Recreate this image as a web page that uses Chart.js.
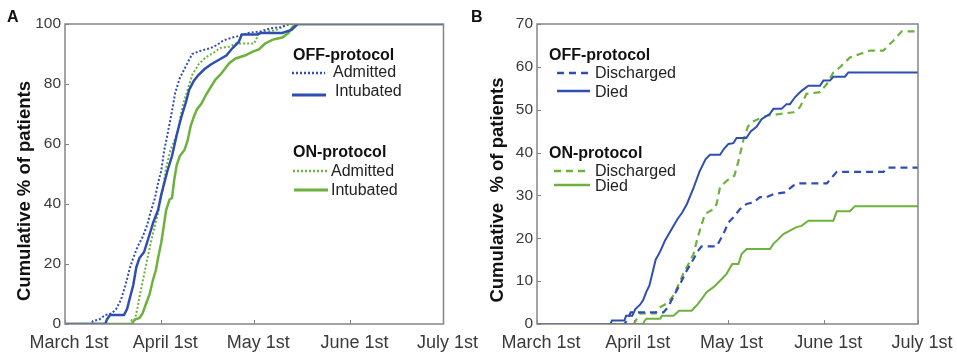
<!DOCTYPE html>
<html>
<head>
<meta charset="utf-8">
<script src="https://cdn.jsdelivr.net/npm/chart.js@4.4.1/dist/chart.umd.min.js"></script>
<style>
  html, body { margin: 0; padding: 0; background: #fff; }
  #wrap { position: relative; width: 957px; height: 355px; overflow: hidden; }
  .box { position: absolute; top: 0; height: 355px; }
  #boxA { left: 0; width: 482px; }
  #boxB { left: 460px; width: 497px; }
</style>
</head>
<body>
<div id="wrap">
  <div class="box" id="boxA"><canvas id="chartA"></canvas></div>
  <div class="box" id="boxB"><canvas id="chartB"></canvas></div>
</div>
<script>
// x axis: days since March 1st
const monthDays = [0, 31, 61, 92, 122];
const monthLabels = ['March 1st', 'April 1st', 'May 1st', 'June 1st', 'July 1st'];

// Panel A - cumulative % admitted / intubated  [day, %]
const offAdmitted = [[0,0],[8.5,0],[9,1],[11,1.5],[13,3],[15,3.5],[16.5,5],[18,8],[19.5,13],[21,19],[22,22],[23.5,26],[25,29],[26.5,33],[27.5,37],[29,42],[30,47],[31,51],[32,58],[33,63],[34.5,71],[35.5,77],[37,82],[38,84],[39.5,87],[41,90],[43.5,91],[47,92],[49,93],[51,94.5],[54,95.5],[56,96],[59,97],[63,97.5],[66,98.5],[70,99],[72,100],[122,100]];
const offIntubated = [[0,0],[13,0],[13.5,1.5],[14.5,3],[19,3],[20,5],[21,9],[22,13],[23,19],[24,22],[25.5,24],[27,29],[28.5,34],[30,38],[31,43],[32,47],[33,51],[34.5,56],[36,63],[37.5,69],[39,74],[40,78],[41.5,81],[43,83],[45,85],[47,86.5],[49.5,88],[52,89.5],[54,92],[56,94],[57,96.5],[62,96.5],[63,97],[70,97],[73,98],[75,100],[122,100]];
const onAdmitted = [[0,0],[21,0],[21.5,1.3],[22.5,1.3],[23.5,6],[24,9],[25,14],[26,19],[27,24],[28.3,30],[30,37],[31.5,45],[32.6,52],[34,58],[36,63],[37,68],[38,73],[39.5,78],[41,83],[43,86.5],[45.5,89],[48,90.5],[50,92],[53,92.5],[55,93.5],[61,93.5],[62.5,97],[68,98],[71,99.5],[73,100],[122,100]];
const onIntubated = [[0,0],[21.5,0],[22.5,1.5],[24,2],[25,3.5],[26.2,7],[27.3,10],[28.3,14.5],[29.3,18],[30,22],[31,27],[31.6,31],[32.6,38],[33.7,41.5],[34.5,42],[35.2,48],[36,53],[37,56],[38.5,58],[39.5,61],[40.5,66],[41.5,69],[42.5,71.5],[44,73.5],[45.5,76.5],[47,79],[48.5,81.5],[50,83],[51.5,85],[53,87],[55,88.5],[58,89.5],[60.5,90.8],[62.5,91.5],[64.5,93.5],[67,94.8],[70,95.5],[72,97],[73.3,99],[74.5,100],[122,100]];

// Panel B - cumulative % discharged / died  [day, %]
const offDischarged = [[0,0],[28,0],[29,1],[30,2.7],[40.5,2.7],[42,4],[43,5.4],[45.8,9.3],[47.9,12.4],[50,15],[51.5,17],[52.7,18.1],[57.5,18.1],[59.7,21],[61.3,23.7],[62.9,24.9],[65,26.8],[67.1,28],[69.3,28.4],[71.4,29.6],[73.5,29.6],[75.7,30.3],[79.4,30.7],[82.1,32.3],[84.2,32.8],[92.8,32.8],[94.9,34.6],[96,35.5],[110.9,35.5],[112.5,36.5],[122,36.5]];
const offDied = [[0,0],[23.5,0],[24,0.8],[28,0.8],[28.5,1.9],[30.5,1.9],[31.5,3.5],[33,4.5],[34,5.6],[35,7.5],[36,9],[37,12],[38,15],[39.5,17],[41,19.5],[43,22],[45,24.5],[46.5,26],[48,28],[50,31.5],[52,35.5],[54,38.5],[55.4,39.5],[58.6,39.5],[60,41],[61.3,42],[62.9,42.2],[63.9,43.4],[67,43.4],[68.5,45],[70.3,46],[71.9,47.8],[74.5,49],[75.7,50.2],[78.3,50.2],[79.9,51.3],[81,51.3],[82.6,52.9],[84.7,54.4],[86.9,55.6],[90.6,55.6],[91.7,56.8],[93.8,56.8],[94.9,57.7],[98.6,57.7],[99.7,58.7],[122,58.7]];
const onDischarged = [[0,0],[31,0],[33,2.5],[38,2.5],[39,3.7],[42,5],[44,7],[45.8,10],[47,12],[48.5,14],[50.1,16.3],[51.2,19.5],[52.2,22],[53.8,25.7],[56.5,26.8],[57.5,28],[58.6,31.9],[60.7,33.4],[63.2,34.6],[64.5,38],[66.1,43],[67.5,46],[68.5,47],[71.4,48],[73.5,48.6],[77.8,49],[82.1,49.4],[84.2,50.6],[86.3,53.7],[90.6,54.1],[92.8,56],[94.9,58.7],[97,59.9],[100.2,62.2],[103.4,63],[106.6,63.8],[110.9,63.8],[114.1,66.1],[116.8,68.3],[122,68.3]];
const onDied = [[0,0],[34,0],[34.5,0.8],[35.1,1.2],[39.4,1.2],[40,1.9],[43.7,1.9],[45.5,3.1],[49.5,3.1],[51.1,4.3],[52.7,5.8],[54.3,7.4],[56.5,8.6],[58.6,10.1],[60.7,11.7],[62.5,14],[64.5,14],[65.5,16.3],[67.1,17.5],[74.6,17.5],[75.7,18.7],[77.3,19.8],[78.9,21],[81,21.8],[83.1,22.6],[84.7,22.9],[86.9,24.1],[94.9,24.1],[96,26.3],[100.2,26.3],[101.8,27.5],[122,27.5]];

const BLUE = '#2f4eb2';
const GREEN = '#6cb23c';
const FONT = "'Liberation Sans', Arial, sans-serif";

// draws the box, inward ticks, y title, panel letter and the grouped legend
const panelPlugin = {
  id: 'panel',
  afterDraw(chart, args, opts) {
    const ctx = chart.ctx, a = chart.chartArea;
    const xs = chart.scales.x, ys = chart.scales.y;
    ctx.save();
    ctx.strokeStyle = '#858585';
    ctx.lineWidth = 1;
    ctx.beginPath();
    xs.ticks.forEach(t => {
      const px = Math.round(xs.getPixelForValue(t.value)) + 0.5;
      ctx.moveTo(px, a.bottom); ctx.lineTo(px, a.bottom - 4);
    });
    ys.ticks.forEach(t => {
      const py = Math.round(ys.getPixelForValue(t.value)) + 0.5;
      ctx.moveTo(a.left, py); ctx.lineTo(a.left + 4, py);
    });
    ctx.stroke();
    ctx.lineWidth = 1.5;
    ctx.strokeRect(a.left, a.top, a.right - a.left, a.bottom - a.top);

    ctx.fillStyle = '#111';
    ctx.font = 'bold 16px ' + FONT;
    ctx.textBaseline = 'alphabetic';
    ctx.textAlign = 'left';
    ctx.fillText(opts.letter, opts.letterX, 22);

    ctx.save();
    ctx.translate(opts.titleX, opts.titleY);
    ctx.rotate(-Math.PI / 2);
    ctx.font = 'bold 18.5px ' + FONT;
    ctx.textAlign = 'center';
    ctx.textBaseline = 'middle';
    ctx.fillText(opts.title, 0, 0);
    ctx.restore();

    opts.legend.forEach(item => {
      if (item.header) {
        ctx.font = 'bold 16px ' + FONT;
        ctx.fillStyle = '#111';
        ctx.fillText(item.header, item.x, item.y);
        return;
      }
      const ds = chart.data.datasets[item.ds];
      ctx.strokeStyle = ds.borderColor;
      ctx.lineWidth = ds.borderWidth + 0.5;
      ctx.setLineDash(ds.borderDash || []);
      ctx.beginPath();
      ctx.moveTo(item.x1, item.y); ctx.lineTo(item.x2, item.y);
      ctx.stroke();
      ctx.setLineDash([]);
      ctx.font = '16px ' + FONT;
      ctx.fillStyle = '#222';
      ctx.fillText(ds.label, item.tx, item.ty);
    });
    ctx.restore();
  }
};

function makeChart(id, datasets, yMax, yStep, yWidth, padRight, panel) {
  return new Chart(document.getElementById(id), {
    type: 'line',
    data: { datasets: datasets },
    options: {
      responsive: true,
      maintainAspectRatio: false,
      animation: false,
      layout: { padding: { left: 0, top: 24, right: padRight, bottom: 0 } },
      elements: { point: { radius: 0 }, line: { tension: 0 } },
      plugins: { legend: { display: false }, tooltip: { enabled: false }, panel: panel },
      scales: {
        x: {
          type: 'linear', min: 0, max: 122,
          afterBuildTicks: s => { s.ticks = monthDays.map(v => ({ value: v })); },
          afterFit: s => { s.height = 31; },
          ticks: {
            callback: v => monthLabels[monthDays.indexOf(v)],
            font: { size: 18, family: FONT }, color: '#3a3a3a',
            padding: 8, labelOffset: 4, maxRotation: 0, autoSkip: false
          },
          grid: { display: false, drawTicks: false },
          border: { display: false }
        },
        y: {
          min: 0, max: yMax,
          afterFit: s => { s.width = yWidth; },
          ticks: { stepSize: yStep, font: { size: 15.5, family: FONT }, color: '#3a3a3a', padding: 4 },
          grid: { display: false, drawTicks: false },
          border: { display: false }
        }
      }
    },
    plugins: [panelPlugin]
  });
}

makeChart('chartA', [
  { label: 'Admitted', data: offAdmitted, borderColor: BLUE, borderWidth: 2, borderDash: [2, 2] },
  { label: 'Intubated', data: offIntubated, borderColor: BLUE, borderWidth: 2.5 },
  { label: 'Admitted', data: onAdmitted, borderColor: GREEN, borderWidth: 2, borderDash: [2, 2] },
  { label: 'Intubated', data: onIntubated, borderColor: GREEN, borderWidth: 2.5 }
], 100, 20, 65, 37, {
  letter: 'A', letterX: 7, title: 'Cumulative % of patients', titleX: 25, titleY: 191,
  legend: [
    { header: 'OFF-protocol', x: 293, y: 60 },
    { ds: 0, x1: 292, x2: 325, y: 73, tx: 333, ty: 77 },
    { ds: 1, x1: 292, x2: 326, y: 95, tx: 335, ty: 96 },
    { header: 'ON-protocol', x: 293, y: 157 },
    { ds: 2, x1: 293, x2: 327, y: 171, tx: 331, ty: 176 },
    { ds: 3, x1: 294, x2: 328, y: 190, tx: 331, ty: 195 }
  ]
});

makeChart('chartB', [
  { label: 'Discharged', data: offDischarged, borderColor: BLUE, borderWidth: 2.2, borderDash: [7, 5] },
  { label: 'Died', data: offDied, borderColor: BLUE, borderWidth: 2 },
  { label: 'Discharged', data: onDischarged, borderColor: GREEN, borderWidth: 2.2, borderDash: [7, 5] },
  { label: 'Died', data: onDied, borderColor: GREEN, borderWidth: 2 }
], 70, 10, 77, 39, {
  letter: 'B', letterX: 11, title: 'Cumulative  % of patients', titleX: 38, titleY: 190,
  legend: [
    { header: 'OFF-protocol', x: 89, y: 60 },
    { ds: 0, x1: 97, x2: 130, y: 73, tx: 135, ty: 78 },
    { ds: 1, x1: 97, x2: 130, y: 91, tx: 135, ty: 97 },
    { header: 'ON-protocol', x: 89, y: 158 },
    { ds: 2, x1: 94, x2: 130, y: 171, tx: 135, ty: 176 },
    { ds: 3, x1: 94, x2: 130, y: 185, tx: 135, ty: 191 }
  ]
});
</script>
</body>
</html>
